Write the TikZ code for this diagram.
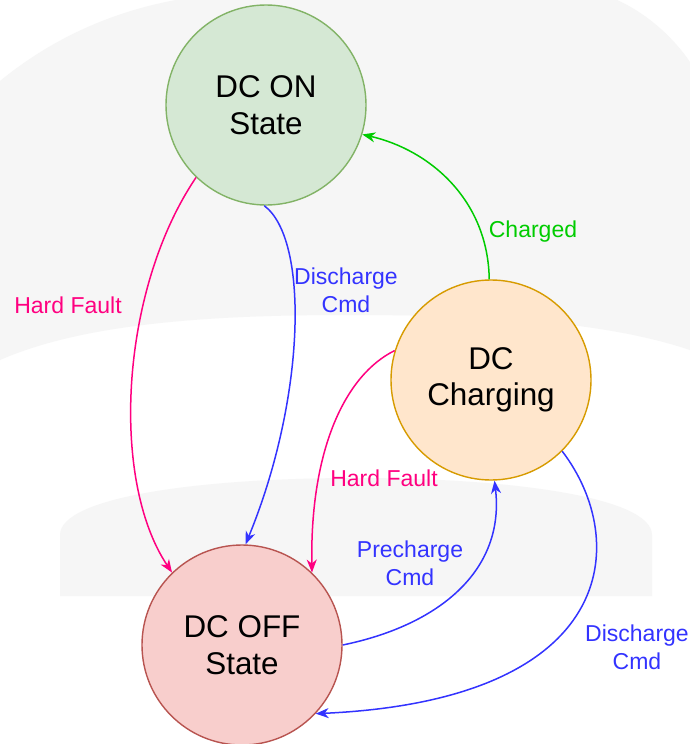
\documentclass[tikz,border=0pt]{standalone}
\usepackage{fontspec}
\setmainfont{Liberation Sans}
\usepackage{tikz}
\usetikzlibrary{arrows.meta}

\definecolor{onfill}{HTML}{D5E8D4}
\definecolor{online}{HTML}{82B366}
\definecolor{chgfill}{HTML}{FFE6CC}
\definecolor{chgline}{HTML}{D79B00}
\definecolor{offfill}{HTML}{F8CECC}
\definecolor{offline}{HTML}{B85450}
\definecolor{faultpink}{HTML}{FF0080}
\definecolor{cmdblue}{HTML}{3333FF}
\definecolor{okgreen}{HTML}{00CC00}
\definecolor{bggray}{HTML}{F6F6F6}

\begin{document}
\begin{tikzpicture}[x=0.5pt,y=-0.5pt,
  state/.style={circle, line width=0.7pt, minimum size=100pt, inner sep=0pt,
    align=center, font=\fontsize{15.7}{18.2}\selectfont},
  lbl/.style={align=center, inner sep=0pt, font=\fontsize{11.5}{13.9}\selectfont},
  trans/.style={line width=0.75pt, ->, >={Stealth[length=6.5pt,width=5pt,inset=2pt]}}]
  \useasboundingbox[fill=white] (0,0) rectangle (690,744);
  % faint background shapes
  \fill[bggray] (0,81) .. controls (50,40) and (110,12) .. (176,0) -- (617,0)
     .. controls (650,15) and (675,40) .. (690,62) -- (690,350)
     .. controls (600,320) and (480,315) .. (345,315)
     .. controls (200,315) and (80,325) .. (0,360) -- cycle;
  \fill[bggray] (60,596) -- (60,535) .. controls (60,497) and (200,478) .. (356,478)
     .. controls (510,478) and (652,497) .. (652,535) -- (652,596) -- cycle;

  \node[state, fill=onfill, draw=online] (dcon) at (266,105) {DC ON\\State};
  \node[state, fill=chgfill, draw=chgline] (dcchg) at (491,380) {DC\\Charging};
  \node[state, fill=offfill, draw=offline] (dcoff) at (242,645) {DC OFF\\State};

   \draw[trans, faultpink] (dcon.226) .. controls (120,290) and (110,480) .. (dcoff.134);
   \draw[trans, cmdblue] (dcon.269) .. controls (310,240) and (305,400) .. (dcoff.88);
   \draw[trans, okgreen] (dcchg.91) .. controls (488,200) and (430,150) .. (dcon.-17);
   \draw[trans, faultpink] (dcchg.163) .. controls (345,375) and (310,450) .. (dcoff.46);
   \draw[trans, cmdblue] (dcoff.0) .. controls (440,625) and (505,570) .. (dcchg.-88);
   \draw[trans, cmdblue] (dcchg.-45) .. controls (630,540) and (620,700) .. (dcoff.-43);

  \node[lbl, text=faultpink] (hf1) at (68,305) {Hard Fault};
  \node[lbl, text=cmdblue] (dis1) at (346,290) {Discharge\\Cmd};
  \node[lbl, text=okgreen] (chd) at (533,232) {Charged};
  \node[lbl, text=faultpink] (hf2) at (384,478) {Hard Fault};
  \node[lbl, text=cmdblue] (pre) at (410,563) {Precharge\\Cmd};
  \node[lbl, text=cmdblue] (dis2) at (637,647) {Discharge\\Cmd};
\end{tikzpicture}
\end{document}
